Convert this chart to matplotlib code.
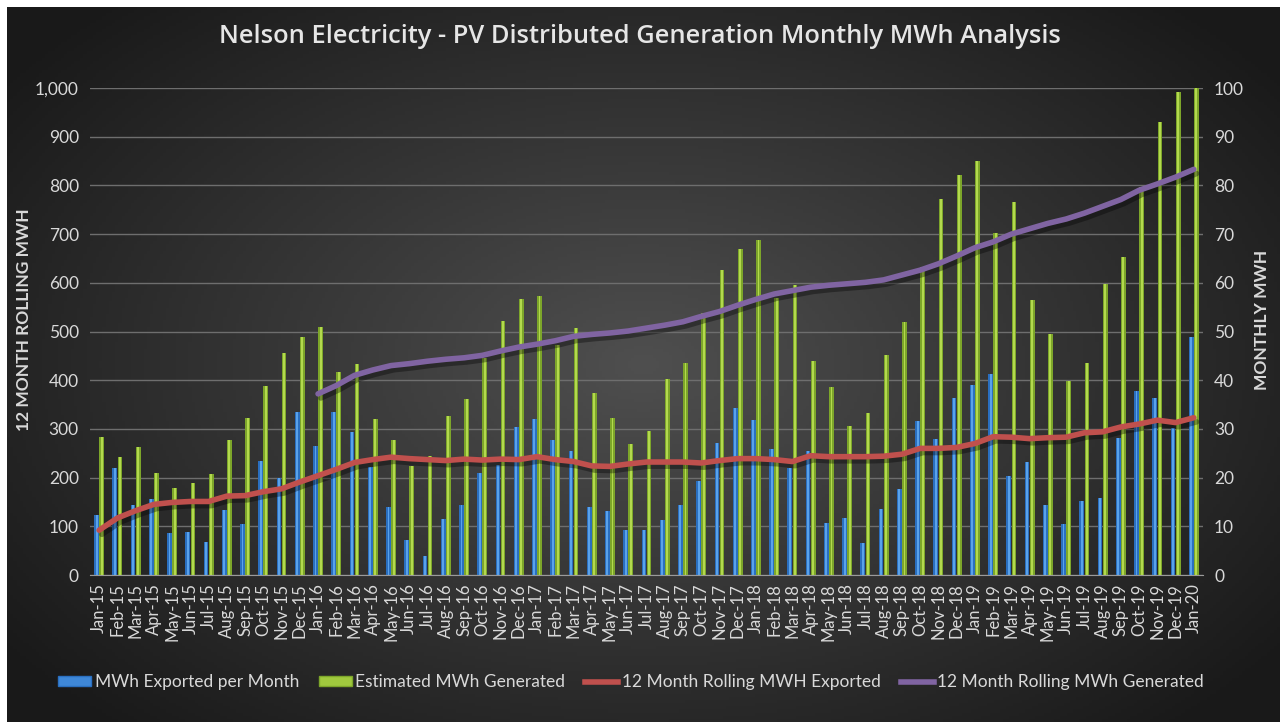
import numpy as np
import matplotlib
matplotlib.use('Agg')
import matplotlib.pyplot as plt
import matplotlib.patheffects as pe
from matplotlib.patches import Patch
from matplotlib.lines import Line2D

plt.rcParams['font.family'] = ['Lato', 'DejaVu Sans']

# --- data ---
months = [f"{m}-{y}" for y in range(15, 20)
          for m in ['Jan', 'Feb', 'Mar', 'Apr', 'May', 'Jun',
                    'Jul', 'Aug', 'Sep', 'Oct', 'Nov', 'Dec']] + ['Jan-20']

# monthly MWh (right axis)
exported = [12.4, 21.9, 14.3, 15.7, 8.6, 8.9, 6.7, 13.4, 10.4, 23.4, 20.0, 33.4,
            26.5, 33.4, 29.4, 22.1, 14.0, 7.1, 4.0, 11.4, 14.3, 21.0, 22.6, 30.4,
            32.0, 27.7, 25.4, 13.9, 13.1, 9.3, 9.3, 11.3, 14.4, 19.3, 27.2, 34.3,
            31.8, 25.8, 21.9, 25.5, 10.6, 11.7, 6.5, 13.6, 17.6, 31.6, 28.0, 36.4,
            39.1, 41.3, 20.3, 23.2, 14.3, 10.4, 15.2, 15.9, 28.1, 37.7, 36.4, 30.1,
            48.8]
generated = [28.4, 24.2, 26.2, 20.9, 17.8, 18.8, 20.7, 27.7, 32.3, 38.9, 45.6, 48.8,
             50.9, 41.6, 43.4, 32.0, 27.8, 22.3, 24.4, 32.7, 36.1, 44.6, 52.2, 56.6,
             57.2, 47.3, 50.8, 37.4, 32.3, 26.8, 29.5, 40.3, 43.6, 53.7, 62.7, 66.9,
             68.7, 56.8, 59.5, 43.9, 38.7, 30.6, 33.3, 45.2, 51.9, 63.3, 77.3, 82.2,
             85.1, 70.3, 76.6, 56.5, 49.5, 39.9, 43.6, 59.7, 65.2, 79.6, 93.1, 99.2,
             100.0]

# 12 month rolling MWh (left axis)
rolling_exported = [92, 117, 132, 145, 149, 151, 151, 162, 163, 171, 177, 191,
                    204, 217, 231, 237, 242, 239, 237, 235, 238, 236, 238, 237,
                    243, 237, 233, 224, 223, 228, 232, 232, 232, 230, 235, 239,
                    239, 237, 233, 245, 243, 243, 243, 244, 248, 260, 260, 262,
                    270, 284, 283, 280, 282, 283, 292, 294, 304, 310, 318, 313,
                    323]
rolling_generated = [np.nan] * 12 + [
    372, 389, 410, 421, 430, 434, 439, 443, 446, 451, 460, 468,
    474, 481, 490, 494, 497, 501, 507, 513, 520, 531, 541, 554,
    566, 577, 584, 591, 595, 598, 601, 606, 616, 626, 639, 655,
    672, 684, 700, 711, 722, 731, 743, 757, 771, 790, 803, 817,
    833]

x = np.arange(len(months))

# --- figure + radial background (thin white margin top/left like the source) ---
fig = plt.figure(figsize=(12.8, 7.22), dpi=100)
fig.patch.set_facecolor('white')
bg = fig.add_axes([7 / 1280, 0, 1 - 7 / 1280, 1 - 7 / 722])
bg.set_axis_off()
gx, gy = np.meshgrid(np.linspace(-1, 1, 400), np.linspace(-1, 1, 226))
r = np.sqrt(gx ** 2 + (gy * 0.9) ** 2)
shade = np.clip(0.31 - 0.17 * r, 0.1, 0.31)
bg.imshow(np.dstack([shade] * 3), extent=[0, 1, 0, 1], aspect='auto', zorder=0)
bg.set_xlim(0, 1)
bg.set_ylim(0, 1)

rect = [0.0703, 0.2036, 0.8695, 0.6745]
ax2 = fig.add_axes(rect)                # bars, right axis
ax = fig.add_axes(rect, sharex=ax2)     # lines, left axis (drawn on top)
for a in (ax, ax2):
    a.patch.set_visible(False)

txt = '#d9d9d9'
grid_c = '#6e6e6e'

# bars
w = 0.26
off = 0.14
ax2.bar(x - off, exported, width=w, color='#2a6fc0', zorder=2)
ax2.bar(x - off, exported, width=w * 0.4, color='#5aa2ea', zorder=3)
ax2.bar(x + off, generated, width=w, color='#7da62a', zorder=2)
ax2.bar(x + off, generated, width=w * 0.4, color='#b3d94e', zorder=3)
ax2.set_ylim(0, 100)
ax2.set_yticks(np.arange(0, 101, 10))
ax2.yaxis.tick_right()
ax2.grid(axis='y', color=grid_c, linewidth=1)
ax2.set_axisbelow(True)

# lines
shadow = [pe.SimpleLineShadow(offset=(2, -3), alpha=0.35), pe.Normal()]
ax.plot(x, rolling_exported, color='#c0504d', lw=4, path_effects=shadow,
        solid_capstyle='round', zorder=5)
ax.plot(x, rolling_generated, color='#8064a2', lw=4, path_effects=shadow,
        solid_capstyle='round', zorder=5)
ax.set_ylim(0, 1000)
ax.set_yticks(np.arange(0, 1001, 100))
ax.set_yticklabels([f"{v:,}" for v in range(0, 1001, 100)])
ax.set_xlim(-0.5, len(months) - 0.5)
ax.set_xticks(x)
ax.set_xticklabels(months, rotation=90)

for a in (ax, ax2):
    for s in a.spines.values():
        s.set_visible(False)
    a.tick_params(axis='y', length=0, colors=txt, labelsize=12.5, pad=8)
ax2.tick_params(axis='x', bottom=False, labelbottom=False)
ax.tick_params(axis='x', length=0, colors=txt, labelsize=12, pad=6)
ax.spines['bottom'].set_visible(True)
ax.spines['bottom'].set_color('#9a9a9a')

title = fig.text(0.5, 0.949,
                 'Nelson Electricity - PV Distributed Generation Monthly MWh Analysis',
                 ha='center', va='center', color='#e6e6e6', fontsize=16,
                 fontweight='semibold', family=['Open Sans', 'DejaVu Sans'])
# stretch title to the width it has in the source (~845 px)
fig.canvas.draw()
tw = title.get_window_extent().width
title.set_fontsize(16 * 845 / tw)

fig.text(0.019, 0.557, '12 MONTH ROLLING MWH', rotation=90, ha='center', va='center',
         color=txt, fontsize=12.5, fontweight='bold')
fig.text(0.986, 0.557, 'MONTHLY MWH', rotation=90, ha='center', va='center',
         color=txt, fontsize=12.5, fontweight='bold')

handles = [Patch(facecolor='#3f88d8', edgecolor='#2a6fc0'),
           Patch(facecolor='#a0c93e', edgecolor='#7da62a'),
           Line2D([0], [0], color='#c0504d', lw=4),
           Line2D([0], [0], color='#8064a2', lw=4)]
labels = ['MWh Exported per Month', 'Estimated MWh Generated',
          '12 Month Rolling MWH Exported', '12 Month Rolling MWh Generated']
fig.legend(handles, labels, loc='center', bbox_to_anchor=(0.493, 0.055), ncol=4,
           frameon=False, fontsize=12.5, labelcolor=txt, handlelength=1.9,
           handleheight=0.5, handletextpad=0.2, columnspacing=1.15)

fig.savefig('out.png', dpi=100, facecolor=fig.get_facecolor())
